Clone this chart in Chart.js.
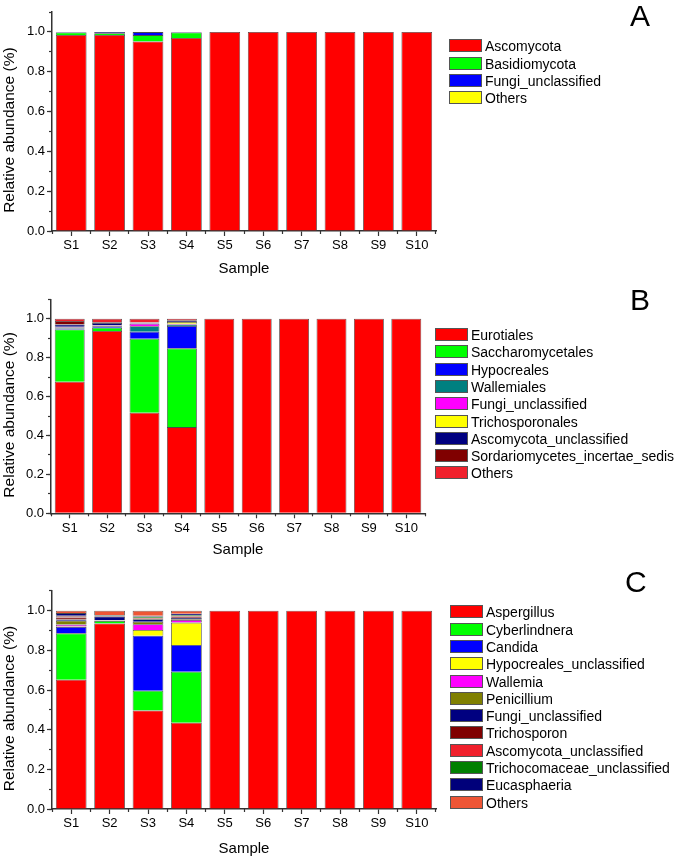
<!DOCTYPE html>
<html>
<head>
<meta charset="utf-8">
<script src="https://cdn.jsdelivr.net/npm/chart.js@4/dist/chart.umd.min.js"></script>
<style>
  body { margin: 0; background: #fff; font-family: "Liberation Sans", Arial, sans-serif; }
  #page { position: relative; width: 675px; height: 858px; overflow: hidden; }
  .panel { position: absolute; left: 0; }
  .legend { position: absolute; font-size: 14px; color: #000; }
  .legend div { height: 17.3px; line-height: 17.3px; white-space: nowrap; }
  .legend span.box { display: inline-block; width: 31px; height: 11px; border: 1px solid #555; vertical-align: -1px; margin-right: 3px; }
  .letter { position: absolute; font-size: 30px; line-height: 30px; color: #000; }
</style>
</head>
<body>
<div id="page"></div>
<script>
const samples = ['S1', 'S2', 'S3', 'S4', 'S5', 'S6', 'S7', 'S8', 'S9', 'S10'];

// A - phylum level
const phylumNames = ['Ascomycota', 'Basidiomycota', 'Fungi_unclassified', 'Others'];
const phylumColors = ['#ff0000', '#00ff00', '#0000ff', '#ffff00'];
const ascomycota = [0.985, 0.985, 0.952, 0.970, 1, 1, 1, 1, 1, 1];
const basidiomycota = [0.012, 0.008, 0.032, 0.027, 0, 0, 0, 0, 0, 0];
const phylumFungiUnclassified = [0.002, 0.006, 0.015, 0.003, 0, 0, 0, 0, 0, 0];
const phylumOthers = [0.001, 0.001, 0.001, 0, 0, 0, 0, 0, 0, 0];

// B - order level
const orderNames = ['Eurotiales', 'Saccharomycetales', 'Hypocreales', 'Wallemiales', 'Fungi_unclassified',
  'Trichosporonales', 'Ascomycota_unclassified', 'Sordariomycetes_incertae_sedis', 'Others'];
const orderColors = ['#ff0000', '#00ff00', '#0000ff', '#008080', '#ff00ff', '#ffff00', '#000080', '#800000', '#f0202c'];
const eurotiales = [0.676, 0.937, 0.517, 0.443, 1, 1, 1, 1, 1, 1];
const saccharomycetales = [0.269, 0.017, 0.380, 0.405, 0, 0, 0, 0, 0, 0];
const hypocreales = [0.005, 0.008, 0.036, 0.115, 0, 0, 0, 0, 0, 0];
const wallemiales = [0.005, 0.002, 0.029, 0.008, 0, 0, 0, 0, 0, 0];
const orderFungiUnclassified = [0.002, 0.002, 0.012, 0.003, 0, 0, 0, 0, 0, 0];
const trichosporonales = [0.002, 0.002, 0.002, 0.009, 0, 0, 0, 0, 0, 0];
const orderAscomycotaUnclassified = [0.012, 0.010, 0.004, 0.005, 0, 0, 0, 0, 0, 0];
const sordariomycetesIncertaeSedis = [0.018, 0.004, 0.002, 0.004, 0, 0, 0, 0, 0, 0];
const orderOthers = [0.011, 0.018, 0.018, 0.008, 0, 0, 0, 0, 0, 0];

// C - genus level
const genusNames = ['Aspergillus', 'Cyberlindnera', 'Candida', 'Hypocreales_unclassified', 'Wallemia', 'Penicillium',
  'Fungi_unclassified', 'Trichosporon', 'Ascomycota_unclassified', 'Trichocomaceae_unclassified', 'Eucasphaeria', 'Others'];
const genusColors = ['#ff0000', '#00ff00', '#0000ff', '#ffff00', '#ff00ff', '#808000',
  '#000080', '#800000', '#f0202c', '#008000', '#00007a', '#ee5535'];
const aspergillus = [0.652, 0.936, 0.497, 0.435, 1, 1, 1, 1, 1, 1];
const cyberlindnera = [0.234, 0.013, 0.100, 0.257, 0, 0, 0, 0, 0, 0];
const candida = [0.032, 0.002, 0.277, 0.135, 0, 0, 0, 0, 0, 0];
const hypocrealesUnclassified = [0.002, 0, 0.029, 0.113, 0, 0, 0, 0, 0, 0];
const wallemia = [0.010, 0.001, 0.029, 0.013, 0, 0, 0, 0, 0, 0];
const penicillium = [0.020, 0.001, 0.013, 0.004, 0, 0, 0, 0, 0, 0];
const genusFungiUnclassified = [0.006, 0.018, 0.012, 0.008, 0, 0, 0, 0, 0, 0];
const trichosporon = [0.010, 0.002, 0.004, 0.006, 0, 0, 0, 0, 0, 0];
const genusAscomycotaUnclassified = [0.006, 0.001, 0.004, 0.004, 0, 0, 0, 0, 0, 0];
const trichocomaceaeUnclassified = [0.003, 0.002, 0.006, 0.004, 0, 0, 0, 0, 0, 0];
const eucasphaeria = [0.013, 0.002, 0.004, 0.006, 0, 0, 0, 0, 0, 0];
const genusOthers = [0.012, 0.022, 0.025, 0.015, 0, 0, 0, 0, 0, 0];

const FONT = '"Liberation Sans", Arial, sans-serif';
const AXIS = '#333';

const panels = [
  { letter: 'A', names: phylumNames, colors: phylumColors,
    series: [ascomycota, basidiomycota, phylumFungiUnclassified, phylumOthers],
    top: 0, height: 286, padTop: 12, yWidth: 52, xHeight: 55, titlePad: 8, right: 436,
    legendX: 449, legendY: 47, letterX: 640, letterY: 16 },
  { letter: 'B', names: orderNames, colors: orderColors,
    series: [eurotiales, saccharomycetales, hypocreales, wallemiales, orderFungiUnclassified,
      trichosporonales, orderAscomycotaUnclassified, sordariomycetesIncertaeSedis, orderOthers],
    top: 287, height: 286, padTop: 12.3, yWidth: 51, xHeight: 59.7, titlePad: 14, right: 425,
    legendX: 435, legendY: 335.7, letterX: 640, letterY: 300 },
  { letter: 'C', names: genusNames, colors: genusColors,
    series: [aspergillus, cyberlindnera, candida, hypocrealesUnclassified, wallemia, penicillium,
      genusFungiUnclassified, trichosporon, genusAscomycotaUnclassified, trichocomaceaeUnclassified, eucasphaeria, genusOthers],
    top: 573, height: 285, padTop: 17.9, yWidth: 52, xHeight: 49, titlePad: 0, right: 436,
    legendX: 450, legendY: 613, letterX: 635, letterY: 582 }
];

const page = document.getElementById('page');
const isMajor = v => Math.round(v * 10) % 2 === 0;

panels.forEach(p => {
  const canvas = document.createElement('canvas');
  canvas.className = 'panel';
  canvas.width = 675;
  canvas.height = p.height;
  canvas.style.top = p.top + 'px';
  canvas.style.width = '675px';
  canvas.style.height = p.height + 'px';
  page.appendChild(canvas);

  new Chart(canvas, {
    type: 'bar',
    data: {
      labels: samples,
      datasets: p.names.map((name, i) => ({
        label: name,
        data: p.series[i],
        backgroundColor: p.colors[i],
        borderColor: '#4a4a4a',
        borderWidth: 0.8,
        barPercentage: 0.8,
        categoryPercentage: 1
      }))
    },
    options: {
      responsive: false,
      animation: false,
      devicePixelRatio: 1,
      layout: { padding: { top: p.padTop, right: 675 - p.right, left: 0, bottom: 0 } },
      plugins: { legend: { display: false }, tooltip: { enabled: false } },
      scales: {
        x: {
          stacked: true,
          afterFit: s => { s.height = p.xHeight; },
          border: { color: AXIS, width: 1.5 },
          grid: { offset: false, drawOnChartArea: false, tickLength: 5, tickColor: AXIS, tickWidth: 1.2 },
          ticks: { color: '#000', padding: 2, font: { family: FONT, size: 13 } },
          title: { display: true, text: 'Sample', color: '#000', padding: { top: 0, bottom: p.titlePad },
            font: { family: FONT, size: 15 } }
        },
        // minor ticks between the samples
        xMinor: {
          type: 'category',
          position: 'bottom',
          weight: -1,
          offset: true,
          afterFit: s => { s.height = 0; },
          border: { display: false },
          grid: { offset: true, drawOnChartArea: false, tickLength: 3, tickColor: AXIS, tickWidth: 1.2 },
          ticks: { display: false }
        },
        y: {
          stacked: true,
          min: 0,
          max: 1.1,
          afterFit: s => { s.width = p.yWidth; },
          border: { color: AXIS, width: 1.5 },
          grid: { drawOnChartArea: false, tickLength: 5, tickWidth: 1.2,
            tickColor: c => (c.tick && isMajor(c.tick.value) ? AXIS : 'rgba(0,0,0,0)') },
          ticks: {
            stepSize: 0.1,
            autoSkip: false,
            color: '#000',
            padding: 2,
            font: { family: FONT, size: 13 },
            callback: v => (isMajor(v) ? v.toFixed(1) : '')
          },
          title: { display: true, text: 'Relative abundance (%)    ', color: '#000', padding: 0,
            font: { family: FONT, size: 15.5 } }
        },
        yMinor: {
          type: 'linear',
          position: 'left',
          weight: -1,
          min: 0,
          max: 1.1,
          afterFit: s => { s.width = 0; },
          border: { display: false },
          grid: { drawOnChartArea: false, tickLength: 3, tickColor: AXIS, tickWidth: 1.2 },
          ticks: { stepSize: 0.1, autoSkip: false, display: false }
        }
      }
    }
  });

  // legend on the right, built from the same names / colours
  const legend = document.createElement('div');
  legend.className = 'legend';
  legend.style.left = p.legendX + 'px';
  legend.style.top = (p.legendY - 8.65) + 'px';
  p.names.forEach((name, i) => {
    const row = document.createElement('div');
    const box = document.createElement('span');
    box.className = 'box';
    box.style.background = p.colors[i];
    row.appendChild(box);
    row.appendChild(document.createTextNode(name));
    legend.appendChild(row);
  });
  page.appendChild(legend);

  const letter = document.createElement('div');
  letter.className = 'letter';
  letter.textContent = p.letter;
  letter.style.left = (p.letterX - 10) + 'px';
  letter.style.top = (p.letterY - 15) + 'px';
  page.appendChild(letter);
});
</script>
</body>
</html>
